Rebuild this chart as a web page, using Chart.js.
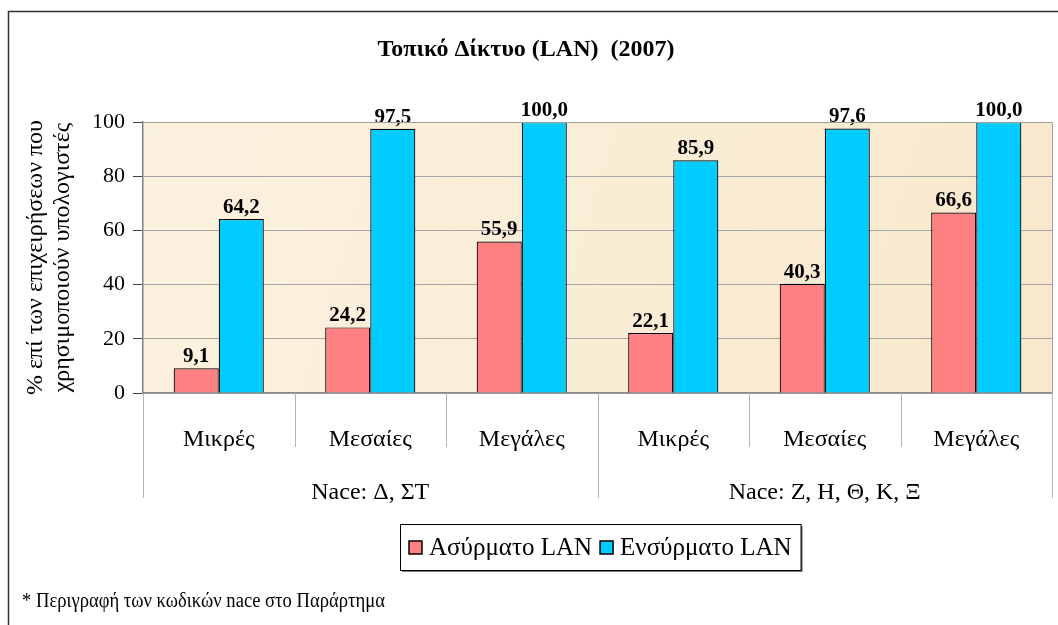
<!DOCTYPE html>
<html>
<head>
<meta charset="utf-8">
<script src="https://cdn.jsdelivr.net/npm/chart.js@4.4.0/dist/chart.umd.min.js"></script>
<style>
    html, body { margin: 0; padding: 0; background: #fff; }
    #wrap { position: relative; width: 1058px; height: 625px; }
</style>
</head>
<body>
<div id="wrap"><canvas id="lanChart" width="1058" height="625"></canvas></div>
<script>
// data
const sizes = ['Μικρές', 'Μεσαίες', 'Μεγάλες', 'Μικρές', 'Μεσαίες', 'Μεγάλες'];
const groups = ['Nace: Δ, ΣΤ', 'Nace: Ζ, Η, Θ, Κ, Ξ'];
const groupOf = [0, 0, 0, 1, 1, 1];
const wireless = [9.1, 24.2, 55.9, 22.1, 40.3, 66.6];
const wired = [64.2, 97.5, 100.0, 85.9, 97.6, 100.0];
const seriesNames = ['Ασύρματο LAN', 'Ενσύρματο LAN'];
const chartTitle = 'Τοπικό Δίκτυο (LAN)  (2007)';
const yTitle = ['% επί των επιχειρήσεων που', 'χρησιμοποιούν υπολογιστές'];
const footnote = '* Περιγραφή των κωδικών nace στο Παράρτημα';

const SERIF = '"Liberation Serif", "Times New Roman", serif';

function fmt(v) {
    return v.toFixed(1).replace('.', ',');
}

const decor = {
    id: 'decor',
    beforeDraw(chart) {
        const ctx = chart.ctx;
        const a = chart.chartArea;
        ctx.save();
        ctx.fillStyle = '#fff';
        ctx.fillRect(0, 0, chart.width, chart.height);
        // outer frame
        ctx.strokeStyle = '#333';
        ctx.lineWidth = 1.5;
        ctx.beginPath();
        ctx.moveTo(8.5, 700);
        ctx.lineTo(8.5, 11.5);
        ctx.lineTo(1100, 11.5);
        ctx.stroke();
        // plot background
        const g = ctx.createLinearGradient(a.left, a.top, a.right, a.bottom);
        g.addColorStop(0, '#FCF2E0');
        g.addColorStop(1, '#F8E8CC');
        ctx.fillStyle = g;
        ctx.fillRect(a.left, a.top, a.right - a.left, a.bottom - a.top);
        ctx.restore();
    },
    afterDatasetsDraw(chart) {
        const ctx = chart.ctx;
        ctx.save();
        ctx.font = 'bold 21px ' + SERIF;
        ctx.fillStyle = '#000';
        ctx.textAlign = 'center';
        ctx.textBaseline = 'bottom';
        chart.data.datasets.forEach(function (ds, di) {
            chart.getDatasetMeta(di).data.forEach(function (bar, i) {
                ctx.fillText(fmt(ds.data[i]), bar.x, bar.y - 1);
            });
        });
        ctx.restore();
    },
    afterDraw(chart) {
        const ctx = chart.ctx;
        const a = chart.chartArea;
        const x = chart.scales.x;
        ctx.save();
        // plot border (top / right)
        ctx.strokeStyle = '#A0A0A0';
        ctx.lineWidth = 1;
        ctx.beginPath();
        ctx.moveTo(a.left, a.top + 0.5);
        ctx.lineTo(a.right + 0.5, a.top + 0.5);
        ctx.lineTo(a.right + 0.5, a.bottom);
        ctx.stroke();

        // category separators, longer where the group changes
        ctx.strokeStyle = '#B4B4B4';
        for (let k = 0; k <= sizes.length; k++) {
            const px = Math.round(x.getPixelForValue(k - 0.5)) + 0.5;
            const edge = k === 0 || k === sizes.length || groupOf[k] !== groupOf[k - 1];
            ctx.beginPath();
            ctx.moveTo(px, a.bottom);
            ctx.lineTo(px, edge ? a.bottom + 105 : a.bottom + 54);
            ctx.stroke();
        }

        // legend
        ctx.font = '25px ' + SERIF;
        ctx.textBaseline = 'middle';
        ctx.textAlign = 'left';
        const sw = 13, gap = 7, pad = 9, sep = 8;
        let total = pad * 2;
        chart.data.datasets.forEach(function (ds, i) {
            total += sw + gap + ctx.measureText(ds.label).width + (i ? sep : 0);
        });
        const bx = Math.round(600 - total / 2), by = 524, bh = 46;
        ctx.fillStyle = '#808080';
        ctx.fillRect(bx + 2, by + 2, total, bh);
        ctx.fillStyle = '#fff';
        ctx.fillRect(bx, by, total, bh);
        ctx.strokeStyle = '#000';
        ctx.strokeRect(bx + 0.5, by + 0.5, total, bh);
        let lx = bx + pad;
        const ly = by + bh / 2 + 1;
        chart.data.datasets.forEach(function (ds, i) {
            if (i) lx += sep;
            ctx.fillStyle = ds.backgroundColor;
            ctx.fillRect(lx, ly - 7, sw, sw);
            ctx.lineWidth = 1.5;
            ctx.strokeStyle = '#000';
            ctx.strokeRect(lx, ly - 7, sw, sw);
            lx += sw + gap;
            ctx.fillStyle = '#000';
            ctx.fillText(ds.label, lx, ly);
            lx += ctx.measureText(ds.label).width;
        });

        // footnote (the original text is slightly condensed)
        ctx.font = '20px ' + SERIF;
        ctx.fillStyle = '#000';
        ctx.translate(22, 602);
        ctx.scale(0.93, 1);
        ctx.fillText(footnote, 0, 0);
        ctx.restore();
    }
};

const ctx = document.getElementById('lanChart');
const lanChart = new Chart(ctx, {
    type: 'bar',
    data: {
        labels: sizes,
        datasets: [
            {
                label: seriesNames[0],
                data: wireless,
                backgroundColor: '#FF8080',
                borderColor: '#000',
                borderWidth: 1.2
            },
            {
                label: seriesNames[1],
                data: wired,
                backgroundColor: '#00CCFF',
                borderColor: '#000',
                borderWidth: 1.2
            }
        ]
    },
    options: {
        responsive: false,
        animation: false,
        layout: {
            padding: {left: 0, right: 6, top: 0, bottom: 120}
        },
        datasets: {
            bar: {categoryPercentage: 0.595, barPercentage: 1}
        },
        plugins: {
            legend: {display: false},
            tooltip: {enabled: false},
            title: {
                display: true,
                text: chartTitle,
                color: '#000',
                font: {family: SERIF, size: 24, weight: 'bold', lineHeight: 1.2},
                padding: {top: 35.6, bottom: 57.6}
            }
        },
        scales: {
            x: {
                type: 'category',
                offset: true,
                grid: {display: false},
                border: {display: true, color: '#8C8C8C', width: 1.5},
                ticks: {
                    color: '#000',
                    padding: 24.6,
                    maxRotation: 0,
                    font: {family: SERIF, size: 24}
                },
                afterFit(scale) { scale.height = 67; }
            },
            x2: {
                type: 'category',
                position: 'bottom',
                labels: groups,
                offset: true,
                weight: 1,
                grid: {display: false},
                border: {display: false},
                ticks: {
                    color: '#000',
                    padding: 10.6,
                    maxRotation: 0,
                    font: {family: SERIF, size: 24}
                },
                afterFit(scale) { scale.height = 45; }
            },
            y: {
                min: 0,
                max: 100,
                ticks: {
                    stepSize: 20,
                    color: '#000',
                    padding: 8,
                    font: {family: SERIF, size: 22}
                },
                grid: {
                    color: '#A6A6A6',
                    tickColor: '#404040',
                    tickLength: 10,
                    lineWidth: 1
                },
                border: {display: true, color: '#808080', width: 1.5},
                title: {
                    display: true,
                    text: yTitle,
                    color: '#000',
                    padding: {top: 22.5, bottom: 0},
                    font: {family: SERIF, size: 24, lineHeight: 1.125}
                },
                afterFit(scale) { scale.width = 143; }
            }
        }
    },
    plugins: [decor]
});
</script>
</body>
</html>
